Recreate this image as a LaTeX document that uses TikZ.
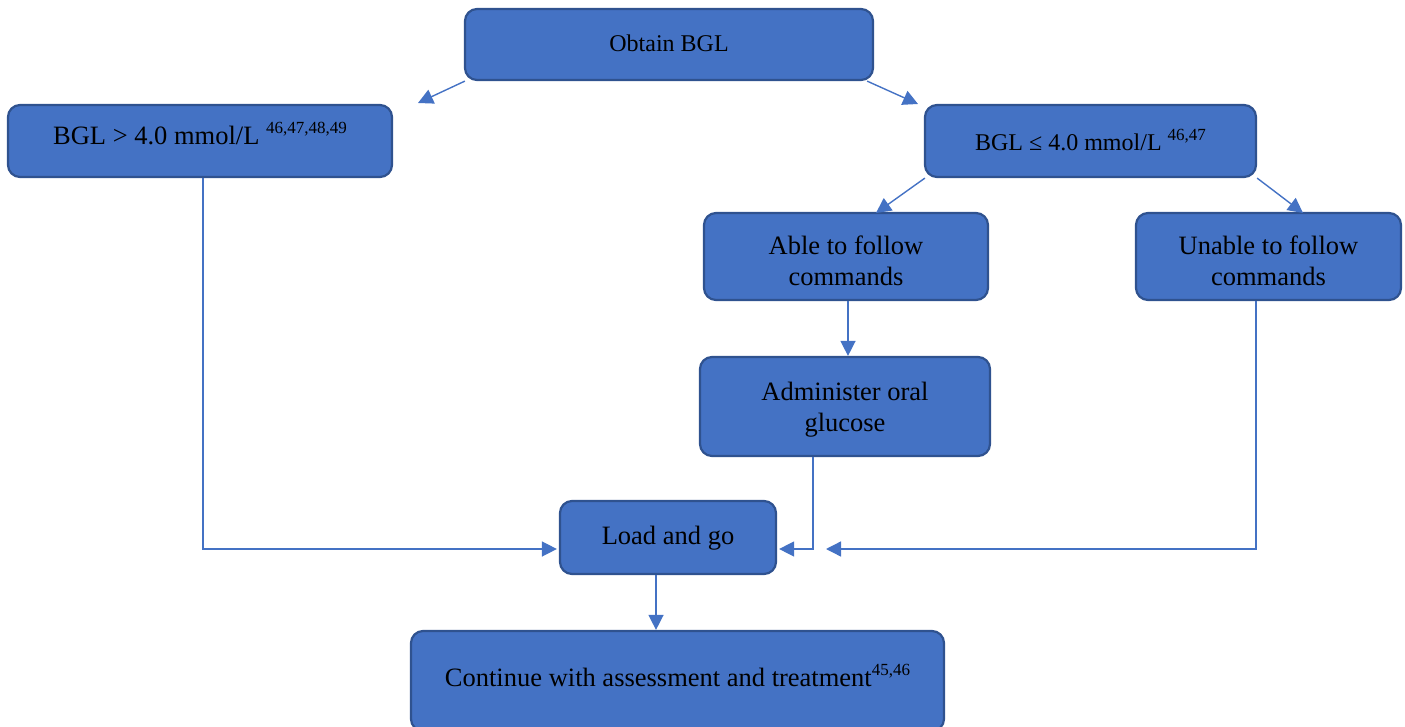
\documentclass[tikz,border=0pt]{standalone}
\usepackage{fontspec}
\setmainfont{Liberation Serif}
\usetikzlibrary{arrows.meta}
\definecolor{boxfill}{HTML}{4472C4}
\definecolor{boxedge}{HTML}{2F528F}
\definecolor{linkcol}{HTML}{4472C4}
% superscript reference numbers
\newcommand{\refnum}[1]{\raisebox{0.42em}{\fontsize{17}{17}\selectfont #1}}
% invisible strut that lowers a two-line label inside its box
\newcommand{\lowstrut}[1]{\rule{0pt}{#1}}
\begin{document}
\begin{tikzpicture}[x=1pt,y=-1pt,
  box/.style={draw=boxedge, fill=boxfill, line width=2.2pt, rounded corners=12pt,
    inner sep=0pt, align=center, font=\fontsize{26.5}{31}\selectfont},
  conn/.style={draw=linkcol, line width=1.4pt,
    -{Triangle[length=15pt,width=15pt]}}]
\useasboundingbox (0,0) rectangle (1405,727);

% boxes
\node[box, minimum width=408pt, minimum height=71pt, text height=20pt, text depth=5pt,
  font=\fontsize{24}{29}\selectfont] (obtain) at (669,44.5) {Obtain BGL};
\node[box, minimum width=384pt, minimum height=72pt, text height=14pt, text depth=6pt]
  (high) at (200,141) {BGL > 4.0 mmol/L \refnum{46,47,48,49}};
\node[box, minimum width=331pt, minimum height=72pt, text height=26pt, text depth=6pt,
  font=\fontsize{24}{29}\selectfont] (low) at (1090.5,141)
  {BGL ≤ 4.0 mmol/L \refnum{46,47}};
\node[box, minimum width=284pt, minimum height=87pt] (able) at (846,256.5)
  {\lowstrut{28pt}Able to follow\\commands};
\node[box, minimum width=265pt, minimum height=87pt] (unable) at (1268.5,256.5)
  {\lowstrut{28pt}Unable to follow\\commands};
\node[box, minimum width=290pt, minimum height=99pt] (admin) at (845,406.5)
  {\lowstrut{24pt}Administer oral\\glucose};
\node[box, minimum width=216pt, minimum height=73pt, text height=20pt, text depth=6.5pt]
  (load) at (668,537.5) {Load and go};
\node[box, minimum width=533pt, minimum height=100pt, text height=17pt, text depth=6pt]
  (cont) at (677.5,681) {Continue with assessment and treatment\refnum{45,46}};

% free arrow ends
\coordinate (tipL) at (418,103);
\coordinate (tipR) at (918,104);
\coordinate (tipAble) at (876,213);
\coordinate (tipUnable) at (1303,213);
\coordinate (tipMid) at (826,549);

% connectors
\draw[conn] ([xshift=1pt]obtain.south west) -- (tipL);
\draw[conn] ([xshift=-7pt]obtain.south east) -- (tipR);
\draw[conn] ([xshift=1pt]low.south west) -- (tipAble);
\draw[conn] (low.south east) -- (tipUnable);
\draw[conn] ([xshift=2pt]able.south) -- ([xshift=3pt]admin.north);
\draw[conn] ([xshift=3pt]high.south) |- ([yshift=-11.5pt,xshift=-2pt]load.west);
\draw[conn] ([xshift=-32pt]admin.south) |- ([yshift=-11.5pt,xshift=2pt]load.east);
\draw[conn] ([xshift=-12.5pt]unable.south) |- (tipMid);
\draw[conn] ([xshift=-12pt]load.south) -- ([xshift=-21.5pt]cont.north);
\end{tikzpicture}
\end{document}
